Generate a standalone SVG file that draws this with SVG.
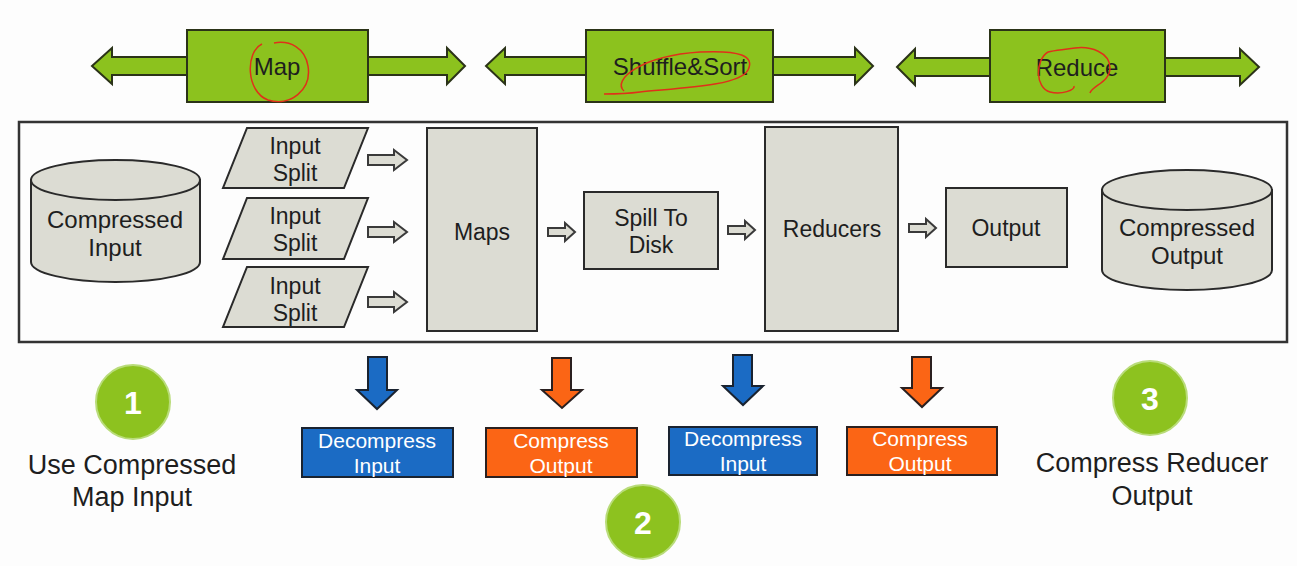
<svg xmlns="http://www.w3.org/2000/svg" width="1297" height="566" viewBox="0 0 1297 566">
<style>
text{font-family:"Liberation Sans",Arial,sans-serif;fill:#1e1e1e;text-anchor:middle}
.g{fill:#8cc21e;stroke:#2b3318;stroke-width:2}
.box{fill:#dcdcd3;stroke:#2a2a2a;stroke-width:2}
.ha{fill:#dcdcd3;stroke:#3a3a3a;stroke-width:2}
.t24{font-size:24px}
.t23{font-size:23px}
.t27{font-size:27px}
.w{fill:#ffffff;font-size:21px}
.blue{fill:#1b6bc4;stroke:#1a2330;stroke-width:2}
.orange{fill:#fb6515;stroke:#2a2020;stroke-width:2}
.circ{fill:#8dc21f;stroke:#b9dc7a;stroke-width:2}
.num{fill:#fff;font-size:32px;font-weight:bold}
.red{fill:none;stroke:#e0301a;stroke-width:1.5}
</style>
<rect width="1297" height="566" fill="#fdfdfd"/>

<g id="phase-map">
<path class="g" d="M92,66 L112,48 L112,57 L447,57 L447,48 L465,66 L447,84 L447,75 L112,75 L112,84 Z"/>
<rect class="g" x="187" y="30" width="181" height="72"/>
<text class="t24" x="277" y="75">Map</text>
<path class="red" d="M262,44 C245,52 246,92 268,100 C290,107 312,90 308,66 C305,48 290,40 274,43"/>
</g>
<g id="phase-shuffle">
<path class="g" d="M486,66 L505,48 L505,57 L855,57 L855,48 L873,66 L855,84 L855,75 L505,75 L505,84 Z"/>
<rect class="g" x="586" y="30" width="187" height="72"/>
<text class="t24" x="680" y="75">Shuffle&amp;Sort</text>
<path class="red" d="M624,91 C612,80 640,56 700,52 C740,50 755,56 748,70 C740,86 680,88 640,92 C625,94 612,94 604,94"/>
</g>
<g id="phase-reduce">
<path class="g" d="M897,67 L915,49 L915,58 L1240,58 L1240,49 L1259,67 L1240,85 L1240,76 L915,76 L915,85 Z"/>
<rect class="g" x="990" y="30" width="175" height="72"/>
<text class="t24" x="1077" y="76">Reduce</text>
<path class="red" d="M1048,52 C1035,60 1035,88 1050,92 C1062,95 1075,90 1074,86 M1090,93 C1092,86 1110,82 1110,68 C1110,52 1090,46 1075,48 C1062,50 1055,50 1048,52"/>
</g>

<rect id="frame" x="19" y="122" width="1268" height="220" fill="#fdfdfd" stroke="#333" stroke-width="2.5"/>

<g id="compressed-input">
<path class="box" d="M31,180 V262 A84.5,20 0 0 0 200,262 V180 Z"/>
<ellipse class="box" cx="115.5" cy="180" rx="84.5" ry="20"/>
<text class="t24" x="115" y="228">Compressed</text>
<text class="t24" x="115" y="256">Input</text>
</g>

<g id="split1">
<polygon class="box" points="247,128 368,128 344,188 223,188"/>
<text class="t23" x="295" y="154">Input</text>
<text class="t23" x="295" y="181">Split</text>
</g>
<g id="split2">
<polygon class="box" points="247,198 368,198 344,259 223,259"/>
<text class="t23" x="295" y="224">Input</text>
<text class="t23" x="295" y="251">Split</text>
</g>
<g id="split3">
<polygon class="box" points="247,267 368,267 344,327 223,327"/>
<text class="t23" x="295" y="294">Input</text>
<text class="t23" x="295" y="321">Split</text>
</g>

<g id="maps">
<rect class="box" x="427" y="128" width="110" height="203"/>
<text class="t23" x="482" y="240">Maps</text>
</g>
<g id="spill">
<rect class="box" x="584" y="192" width="134" height="77"/>
<text class="t23" x="651" y="226">Spill To</text>
<text class="t23" x="651" y="253">Disk</text>
</g>
<g id="reducers">
<rect class="box" x="765" y="127" width="133" height="204"/>
<text class="t23" x="832" y="237">Reducers</text>
</g>
<g id="output">
<rect class="box" x="946" y="188" width="121" height="79"/>
<text class="t23" x="1006" y="236">Output</text>
</g>
<g id="compressed-output">
<path class="box" d="M1102,190 V270 A85,20 0 0 0 1272,270 V190 Z"/>
<ellipse class="box" cx="1187" cy="190" rx="85" ry="20"/>
<text class="t24" x="1187" y="236">Compressed</text>
<text class="t24" x="1187" y="264">Output</text>
</g>

<g id="connectors">
<path class="ha" d="M368,155 H394 V150 L407,160 L394,170 V165 H368 Z"/>
<path class="ha" d="M368,227 H394 V222 L407,232 L394,242 V237 H368 Z"/>
<path class="ha" d="M368,297 H394 V292 L407,302 L394,312 V307 H368 Z"/>
<path class="ha" d="M548,228 H565 V223 L575,232 L565,241 V236 H548 Z"/>
<path class="ha" d="M728,226 H745 V221 L755,230 L745,239 V234 H728 Z"/>
<path class="ha" d="M909,224 H926 V219 L936,228 L926,237 V232 H909 Z"/>
</g>

<g id="step1">
<circle class="circ" cx="133" cy="402" r="37"/>
<text class="num" x="133" y="414">1</text>
<text class="t27" x="132" y="474">Use Compressed</text>
<text class="t27" x="132" y="506">Map Input</text>
</g>

<g id="down-arrows">
<path class="blue" d="M368,357 H387 V390 H397 L377,409 L357,390 H368 Z"/>
<path class="orange" d="M552,358 H571 V390 H582 L562,408 L542,390 H552 Z"/>
<path class="blue" d="M733,355 H752 V386 H763 L743,405 L723,386 H733 Z"/>
<path class="orange" d="M912,357 H931 V388 H942 L922,407 L902,388 H912 Z"/>
</g>

<g id="decompress1">
<rect class="blue" x="302" y="428" width="151" height="49"/>
<text class="w" x="377" y="448">Decompress</text>
<text class="w" x="377" y="473">Input</text>
</g>
<g id="compress1">
<rect class="orange" x="486" y="428" width="151" height="49"/>
<text class="w" x="561" y="448">Compress</text>
<text class="w" x="561" y="473">Output</text>
</g>
<g id="decompress2">
<rect class="blue" x="669" y="427" width="148" height="48"/>
<text class="w" x="743" y="446">Decompress</text>
<text class="w" x="743" y="471">Input</text>
</g>
<g id="compress2">
<rect class="orange" x="847" y="427" width="150" height="48"/>
<text class="w" x="920" y="446">Compress</text>
<text class="w" x="920" y="471">Output</text>
</g>

<g id="step2">
<circle class="circ" cx="643" cy="522" r="37"/>
<text class="num" x="643" y="534">2</text>
</g>

<g id="step3">
<circle class="circ" cx="1150" cy="398" r="37"/>
<text class="num" x="1150" y="410">3</text>
<text class="t27" x="1152" y="472">Compress Reducer</text>
<text class="t27" x="1152" y="505">Output</text>
</g>
</svg>
